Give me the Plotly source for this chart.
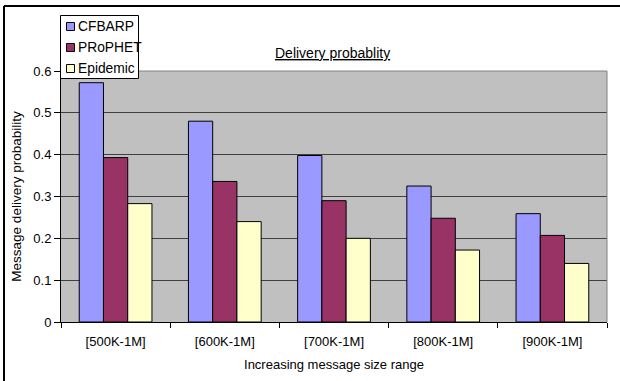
import plotly.graph_objects as go

# Message size ranges on the x axis
size_ranges = ["[500K-1M]", "[600K-1M]", "[700K-1M]", "[800K-1M]", "[900K-1M]"]

# Delivery probability per routing protocol
cfbarp = [0.572, 0.480, 0.398, 0.325, 0.259]
prophet = [0.393, 0.336, 0.290, 0.248, 0.207]
epidemic = [0.283, 0.240, 0.200, 0.172, 0.140]

series_names = ["CFBARP", "PRoPHET", "Epidemic"]
series_colors = ["#9999FF", "#993366", "#FFFFCC"]

y_ticks = [0, 0.1, 0.2, 0.3, 0.4, 0.5, 0.6]
y_tick_text = ["0", "0.1", "0.2", "0.3", "0.4", "0.5", "0.6"]

FONT = "Arial, Liberation Sans, sans-serif"

# pixel geometry of the plotting area (used for the frame and legend box)
W, H = 620, 381
ML, MR, MT, MB = 61, 13, 71, 59
PW, PH = W - ML - MR, H - MT - MB


def px(x):
    return (x - ML) / PW


def py(y):
    return (H - MB - y) / PH


fig = go.Figure()
for name, vals, color in zip(series_names, [cfbarp, prophet, epidemic], series_colors):
    fig.add_trace(go.Bar(
        name=name, x=size_ranges, y=vals, showlegend=False,
        marker=dict(color=color, line=dict(color="black", width=1)),
    ))

shapes = [
    # outer chart frame (top and left edges)
    dict(type="line", xref="paper", yref="paper", x0=px(4), x1=px(625),
         y0=py(6), y1=py(6), line=dict(color="black", width=2)),
    dict(type="line", xref="paper", yref="paper", x0=px(4), x1=px(4),
         y0=py(6), y1=py(390), line=dict(color="black", width=2)),
    # plot-area border on the top and right
    dict(type="line", xref="paper", yref="paper", x0=0, x1=1, y0=1, y1=1,
         line=dict(color="#808080", width=1)),
    dict(type="line", xref="paper", yref="paper", x0=1, x1=1, y0=0, y1=1,
         line=dict(color="#808080", width=1)),
    # legend box
    dict(type="rect", xref="paper", yref="paper", x0=px(60.5), x1=px(138.5),
         y0=py(15.5), y1=py(78.5), fillcolor="white",
         line=dict(color="black", width=1), layer="above"),
]

annotations = [
    dict(
        text="Delivery probablity", xref="paper", yref="paper",
        x=px(332), y=py(53), xanchor="center", yanchor="middle", showarrow=False,
        font=dict(family=FONT, size=14, color="black", lineposition="under"),
    )
]

# legend entries: small swatch + series name
row_y = [26.5, 47.5, 68.5]
for name, color, ry in zip(series_names, series_colors, row_y):
    shapes.append(dict(
        type="rect", xref="paper", yref="paper",
        x0=px(66.5), x1=px(74.5), y0=py(ry - 4), y1=py(ry + 4),
        fillcolor=color, line=dict(color="black", width=1), layer="above",
    ))
    annotations.append(dict(
        text=name, xref="paper", yref="paper", x=px(76), y=py(ry),
        xanchor="left", yanchor="middle", showarrow=False,
        font=dict(family=FONT, size=13.8, color="black"),
    ))

fig.update_layout(
    width=W, height=H,
    margin=dict(l=ML, r=MR, t=MT, b=MB),
    paper_bgcolor="white",
    plot_bgcolor="#C0C0C0",
    barmode="group",
    bargap=0.334,
    bargroupgap=0,
    font=dict(family=FONT, size=13, color="black"),
    showlegend=False,
    shapes=shapes,
    annotations=annotations,
)

fig.update_xaxes(
    showline=True, linecolor="black", linewidth=1,
    ticks="outside", ticklen=5, tickcolor="black", tickson="boundaries",
    ticklabelstandoff=7,
    showgrid=False,
    tickfont=dict(family=FONT, size=13, color="black"),
    title=dict(text="Increasing message size range", standoff=12,
               font=dict(family=FONT, size=13, color="black")),
)
fig.update_yaxes(
    range=[0, 0.6],
    tickvals=y_ticks, ticktext=y_tick_text,
    showline=True, linecolor="black", linewidth=1,
    ticks="outside", ticklen=6, tickcolor="black",
    showgrid=True, gridcolor="#404040", gridwidth=1,
    zeroline=False,
    tickfont=dict(family=FONT, size=13, color="black"),
    title=dict(text="Message delivery probability", standoff=8,
               font=dict(family=FONT, size=13.5, color="black")),
)

fig.write_html("out.html")
